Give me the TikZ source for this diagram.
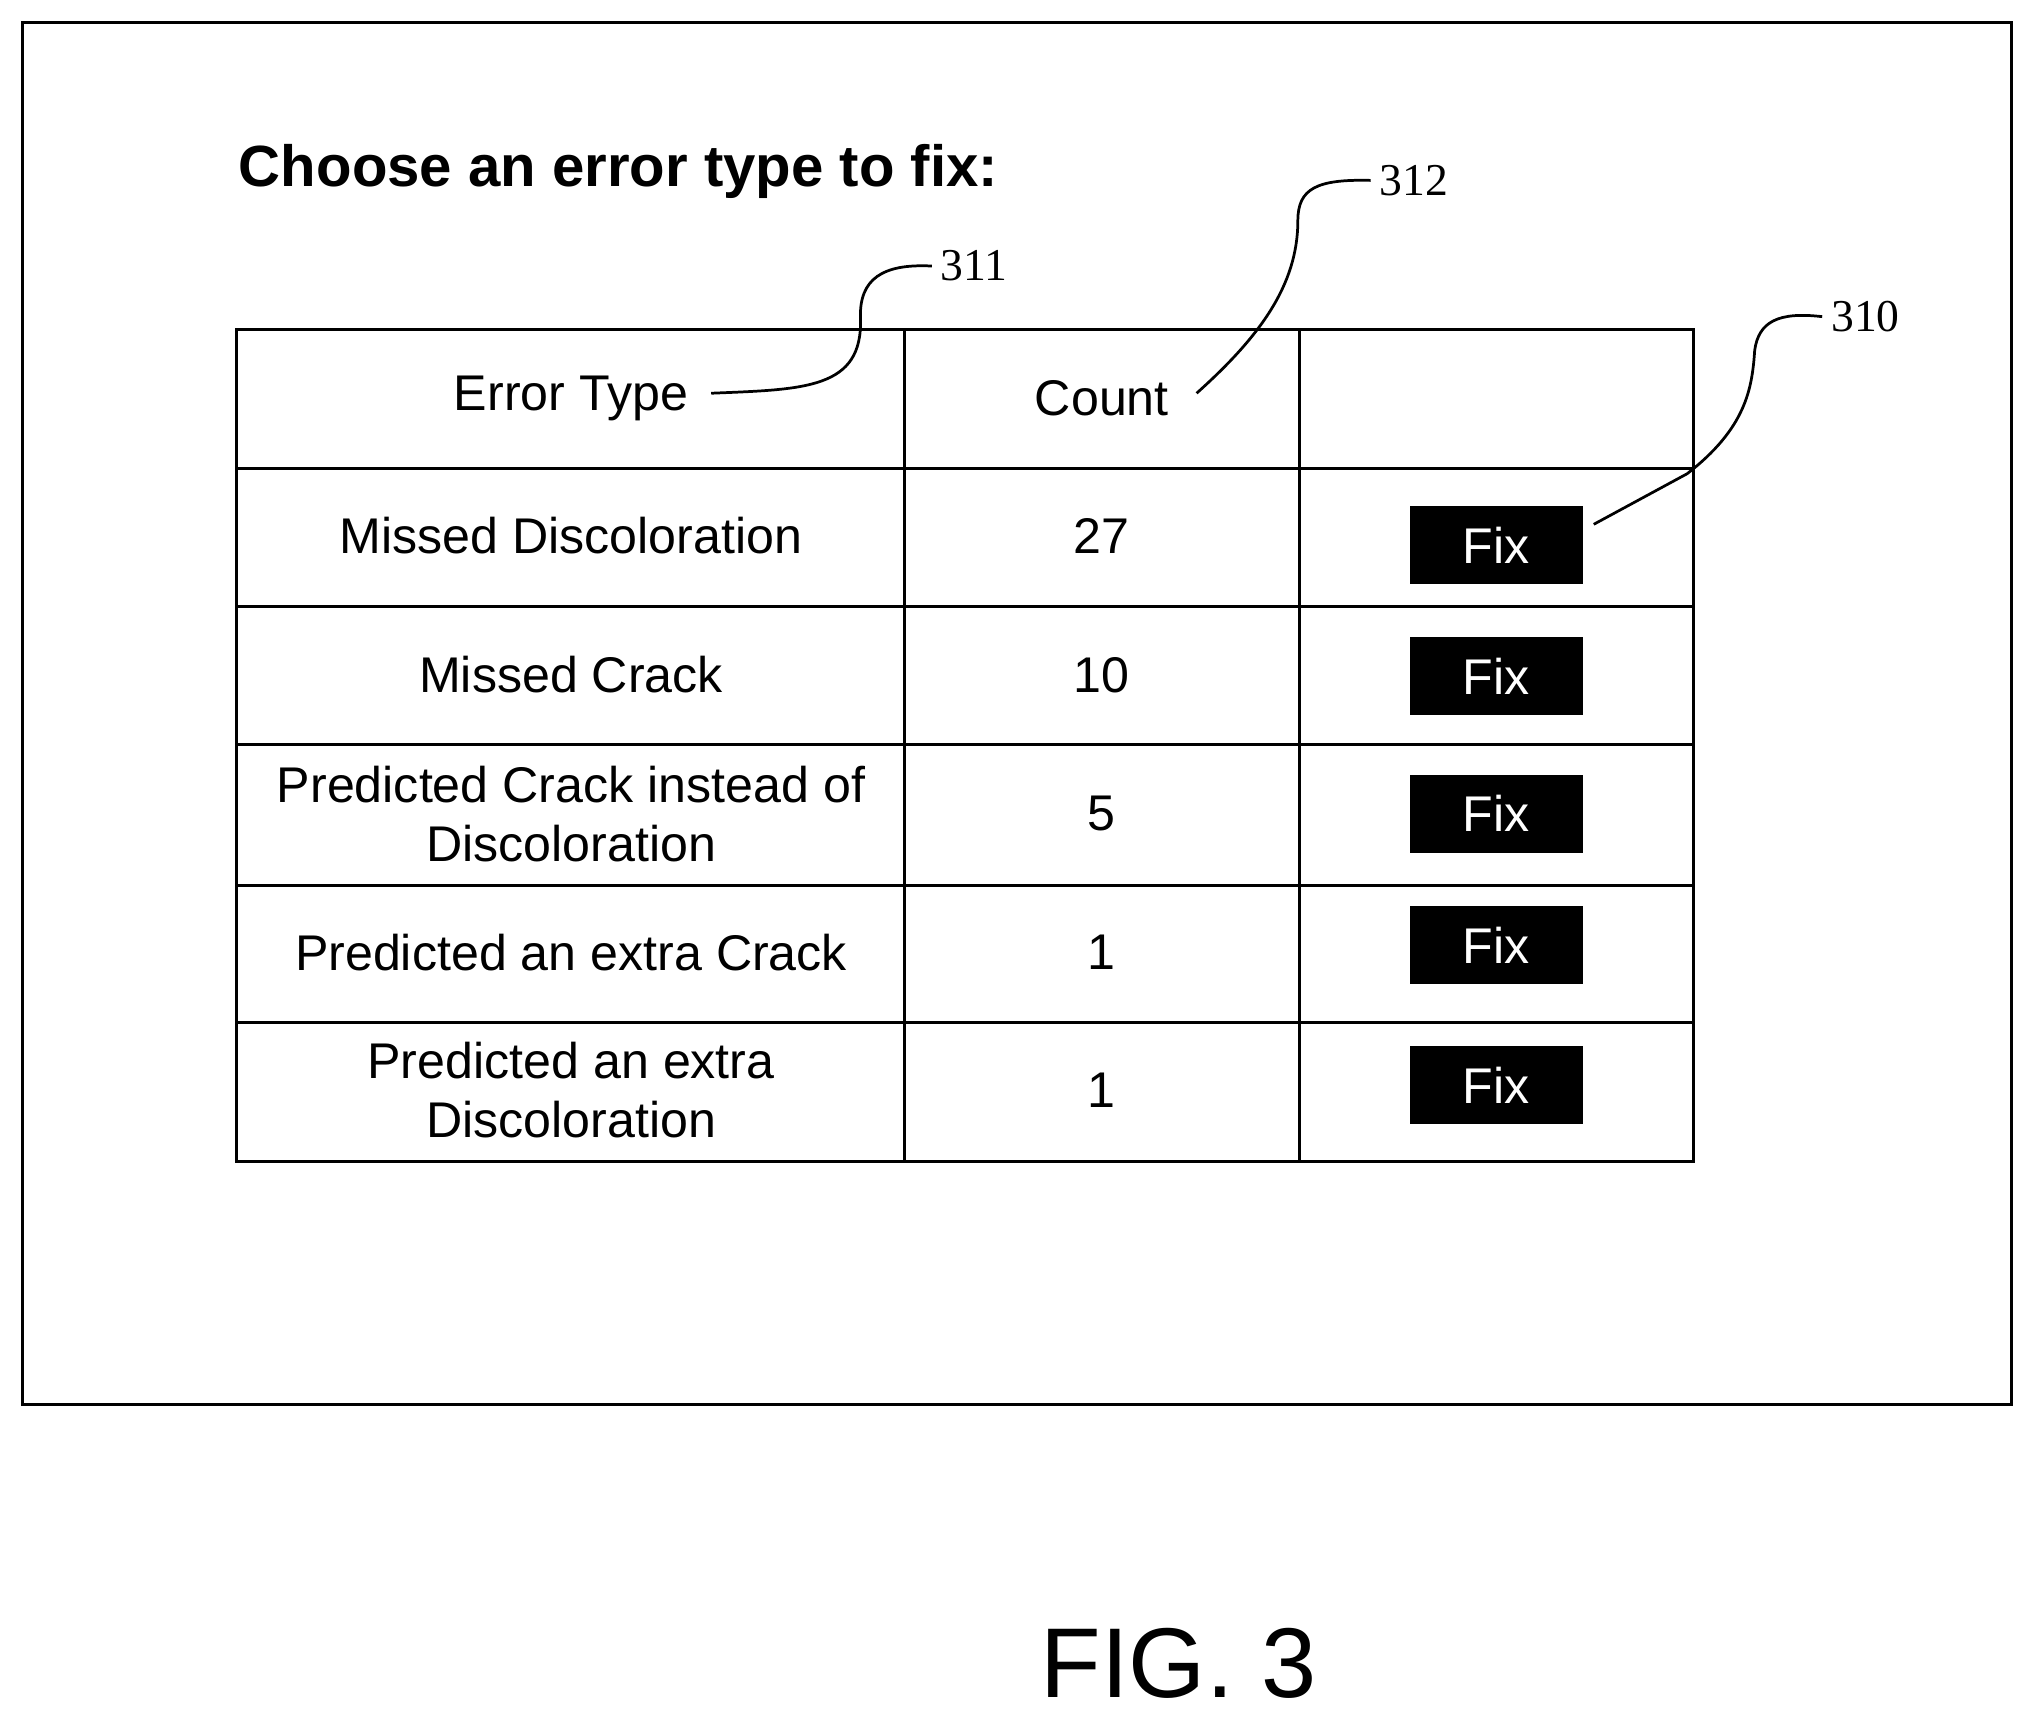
\documentclass[tikz,border=0pt]{standalone}
\usepackage{fontspec}
\setmainfont{Liberation Sans}
\newfontfamily\serif{Liberation Serif}
\begin{document}
\begin{tikzpicture}[x=0.02cm,y=-0.02cm,line width=1.3pt,
  cell/.style={font=\fontsize{22}{26}\selectfont,align=center},
  fix/.style={fill=black,text=white,minimum width=2.66cm,minimum height=1.2cm,font=\fontsize{22}{26}\selectfont,inner sep=0pt},
  ref/.style={font=\serif\fontsize{20}{24}\selectfont},
  lead/.style={line width=1.2pt}]
\useasboundingbox (0,0) rectangle (1568,1327);
\draw (17,17) rectangle (1550,1082);
\node[anchor=west,inner sep=0pt,font=\bfseries\fontsize{25.5}{30}\selectfont] (title) at (183,132) {Choose an error type to fix:};
% table
\draw (182,254) rectangle (1305,895);
\foreach \y in {361,467,574,682,788} \draw (182,\y) -- (1305,\y);
\foreach \x in {697,1001} \draw (\x,254) -- (\x,895);
\node[cell] (h1) at (440,307) {Error Type};
\node[cell] (h2) at (849,307) {Count};
\node[cell] (r1) at (440,413) {Missed Discoloration};
\node[cell] (r2) at (440,520) {Missed Crack};
\node[cell] (r3) at (440,627) {Predicted Crack instead of\\Discoloration};
\node[cell] (r4) at (440,734) {Predicted an extra Crack};
\node[cell] (r5) at (440,840) {Predicted an extra\\Discoloration};
\node[cell] (c1) at (849,413) {27};
\node[cell] (c2) at (849,520) {10};
\node[cell] (c3) at (849,627) {5};
\node[cell] (c4) at (849,734) {1};
\node[cell] (c5) at (849,840) {1};
\node[fix] (f1) at (1153,420) {Fix};
\node[fix] (f2) at (1153,521) {Fix};
\node[fix] (f3) at (1153,627) {Fix};
\node[fix] (f4) at (1153,728) {Fix};
\node[fix] (f5) at (1153,836) {Fix};
% reference labels
\node[ref,anchor=west] (l311) at (718,205) {311};
\node[ref,anchor=west] (l312) at (1056,139) {312};
\node[ref,anchor=west] (l310) at (1404,244) {310};
\coordinate (a1) at (548,303);
\coordinate (a2) at (922,303);
\coordinate (a3) at (1228,404);
\draw[lead] (a1) .. controls (620,300) and (665,300) .. (663,245) .. controls (662,215) and (680,203) .. (l311.west);
\draw[lead] (a2) .. controls (970,260) and (1000,220) .. (1000,170) .. controls (1000,145) and (1015,138) .. (l312.west);
\draw[lead] (a3) -- (1300,365) .. controls (1345,330) and (1350,300) .. (1352,270) .. controls (1355,248) and (1370,240) .. (l310.west);
\node[font=\fontsize{43.5}{52}\selectfont] (fig) at (908,1282) {FIG. 3};
\end{tikzpicture}
\end{document}
